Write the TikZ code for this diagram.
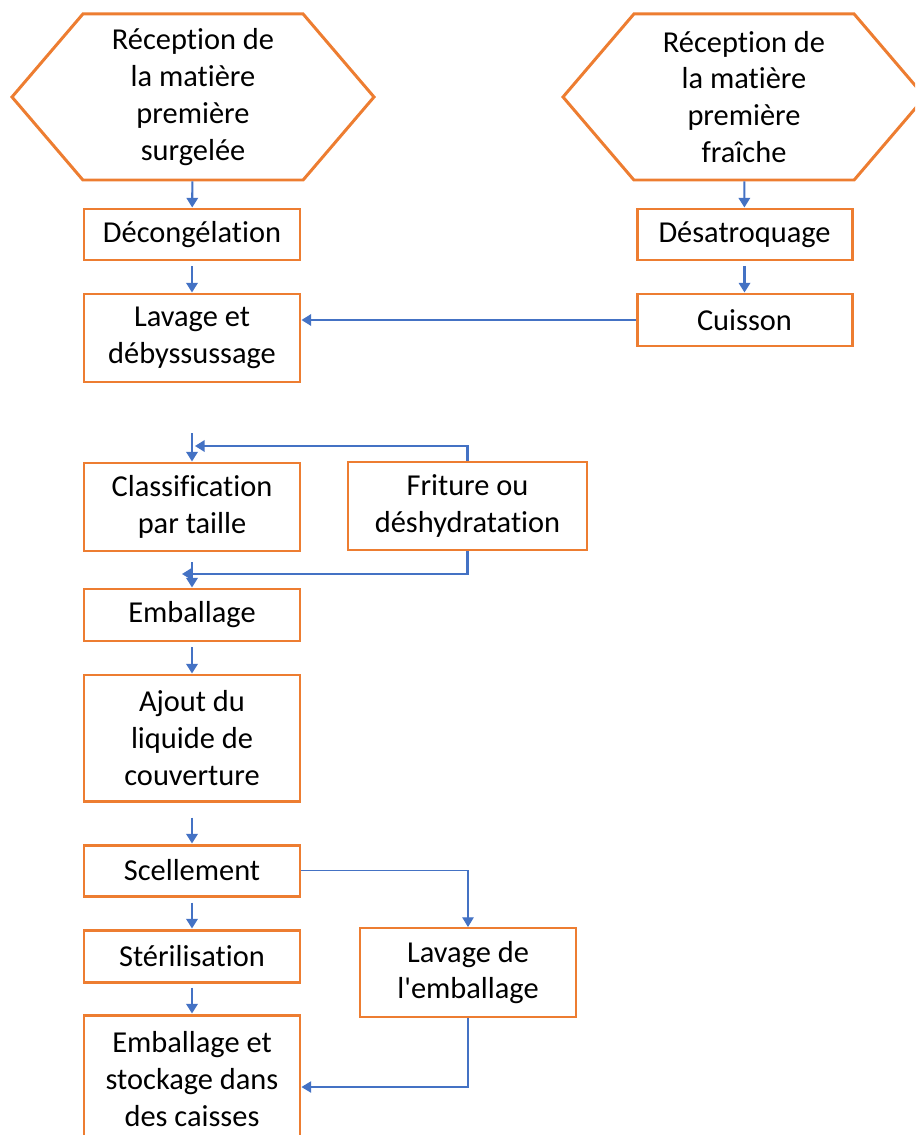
\documentclass[tikz,border=0pt]{standalone}
\usepackage{xcolor}
\usepackage{fontspec}
\setmainfont{Carlito}[Ligatures={TeX,NoCommon}]
\usepackage{tikz}
\usetikzlibrary{arrows.meta,shapes.symbols}

\definecolor{orangeoffice}{HTML}{ED7D31}
\definecolor{blueoffice}{HTML}{4472C4}

\begin{document}
\begin{tikzpicture}
			\tikzstyle{reception} = [shape=signal, signal to=west and east, signal pointer angle=99, draw=orangeoffice, line width=1.7pt, minimum width=7.24cm, minimum height=3.32cm, inner sep=0pt, align=center, font=\fontsize{17.3}{21}\selectfont]
			\tikzstyle{etape} = [draw=orangeoffice, line width=1.7pt, minimum width=4.32cm, inner sep=0pt, align=center, font=\fontsize{17.3}{21}\selectfont]
			\tikzstyle{etapefine} = [etape, line width=1.1pt]
			\tikzset{edge/.style = {draw=blueoffice, line width=1.2pt, -{Triangle[width=6.5pt,length=5.5pt]}}}
			\tikzset{thinedge/.style = {edge, line width=0.6pt}}

			\clip (0,0) rectangle (18.3,-22.7);

			\node[reception](rec1) at (3.86,-1.94) {Réception de\\la matière\\première\\surgelée};
			\node[reception](rec2) at (14.88,-1.94) {Réception de\\la matière\\première\\fraîche};

			\node[etape, minimum height=1.02cm](dec) at (3.84,-4.69) {Décongélation};
			\node[etape, minimum height=1.76cm](lav) at (3.84,-6.76) {Lavage et\\débyssussage};
			\node[etape, minimum width=4.30cm, minimum height=1.02cm](desat) at (14.89,-4.69) {Désatroquage};
			\node[etape, minimum width=4.30cm, minimum height=1.04cm](cuis) at (14.89,-6.40) {Cuisson};

			\node[etape, minimum height=1.76cm](clas) at (3.84,-10.14) {Classification\\par taille};
			\node[etapefine, minimum width=4.78cm, minimum height=1.76cm](fri) at (9.35,-10.12) {Friture ou\\déshydratation};
			\node[etape, minimum height=1.04cm](emb) at (3.84,-12.30) {Emballage};
			\node[etape, minimum height=2.52cm](ajout) at (3.84,-14.76) {Ajout du\\liquide de\\couverture};
			\node[etape, minimum height=1.02cm](scel) at (3.84,-17.41) {Scellement};
			\node[etape, minimum height=1.04cm](ster) at (3.84,-19.12) {Stérilisation};
			\node[etape, minimum height=2.56cm](stock) at (3.84,-21.58) {Emballage et\\stockage dans\\des caisses};
			\node[etapefine, minimum height=1.78cm](lavemb) at (9.36,-19.45) {Lavage de\\l\textquotesingle emballage};

			\coordinate (in1) at (3.84,-8.66);
			\coordinate (j1) at (3.90,-8.92);
			\coordinate (in2) at (3.84,-11.24);
			\coordinate (j2) at (3.64,-11.48);

			\draw[edge](rec1) to (dec);
			\draw[edge, shorten <=0.1cm](dec) to (lav);
			\draw[edge](rec2) to (desat);
			\draw[edge, shorten <=0.1cm](desat) to (cuis);
			\draw[edge](cuis.west) to (cuis.west -| lav.east);

			\draw[edge](in1) to (clas.north);
			\draw[edge](fri.north) |- (j1);
			\draw[edge](in2) to (emb.north);
			\draw[edge](fri.south) |- (j2);

			\draw[edge, shorten <=0.1cm](emb) to (ajout);
			\draw[edge, shorten <=0.3cm](ajout) to (scel);
			\draw[edge, shorten <=0.1cm](scel) to (ster);
			\draw[edge, shorten <=0.08cm](ster) to (stock);

			\draw[thinedge](scel.east) -| (lavemb.north);
			\draw[thinedge](lavemb.south) |- ([yshift=-0.16cm]stock.east);

			\end{tikzpicture}
\end{document}
